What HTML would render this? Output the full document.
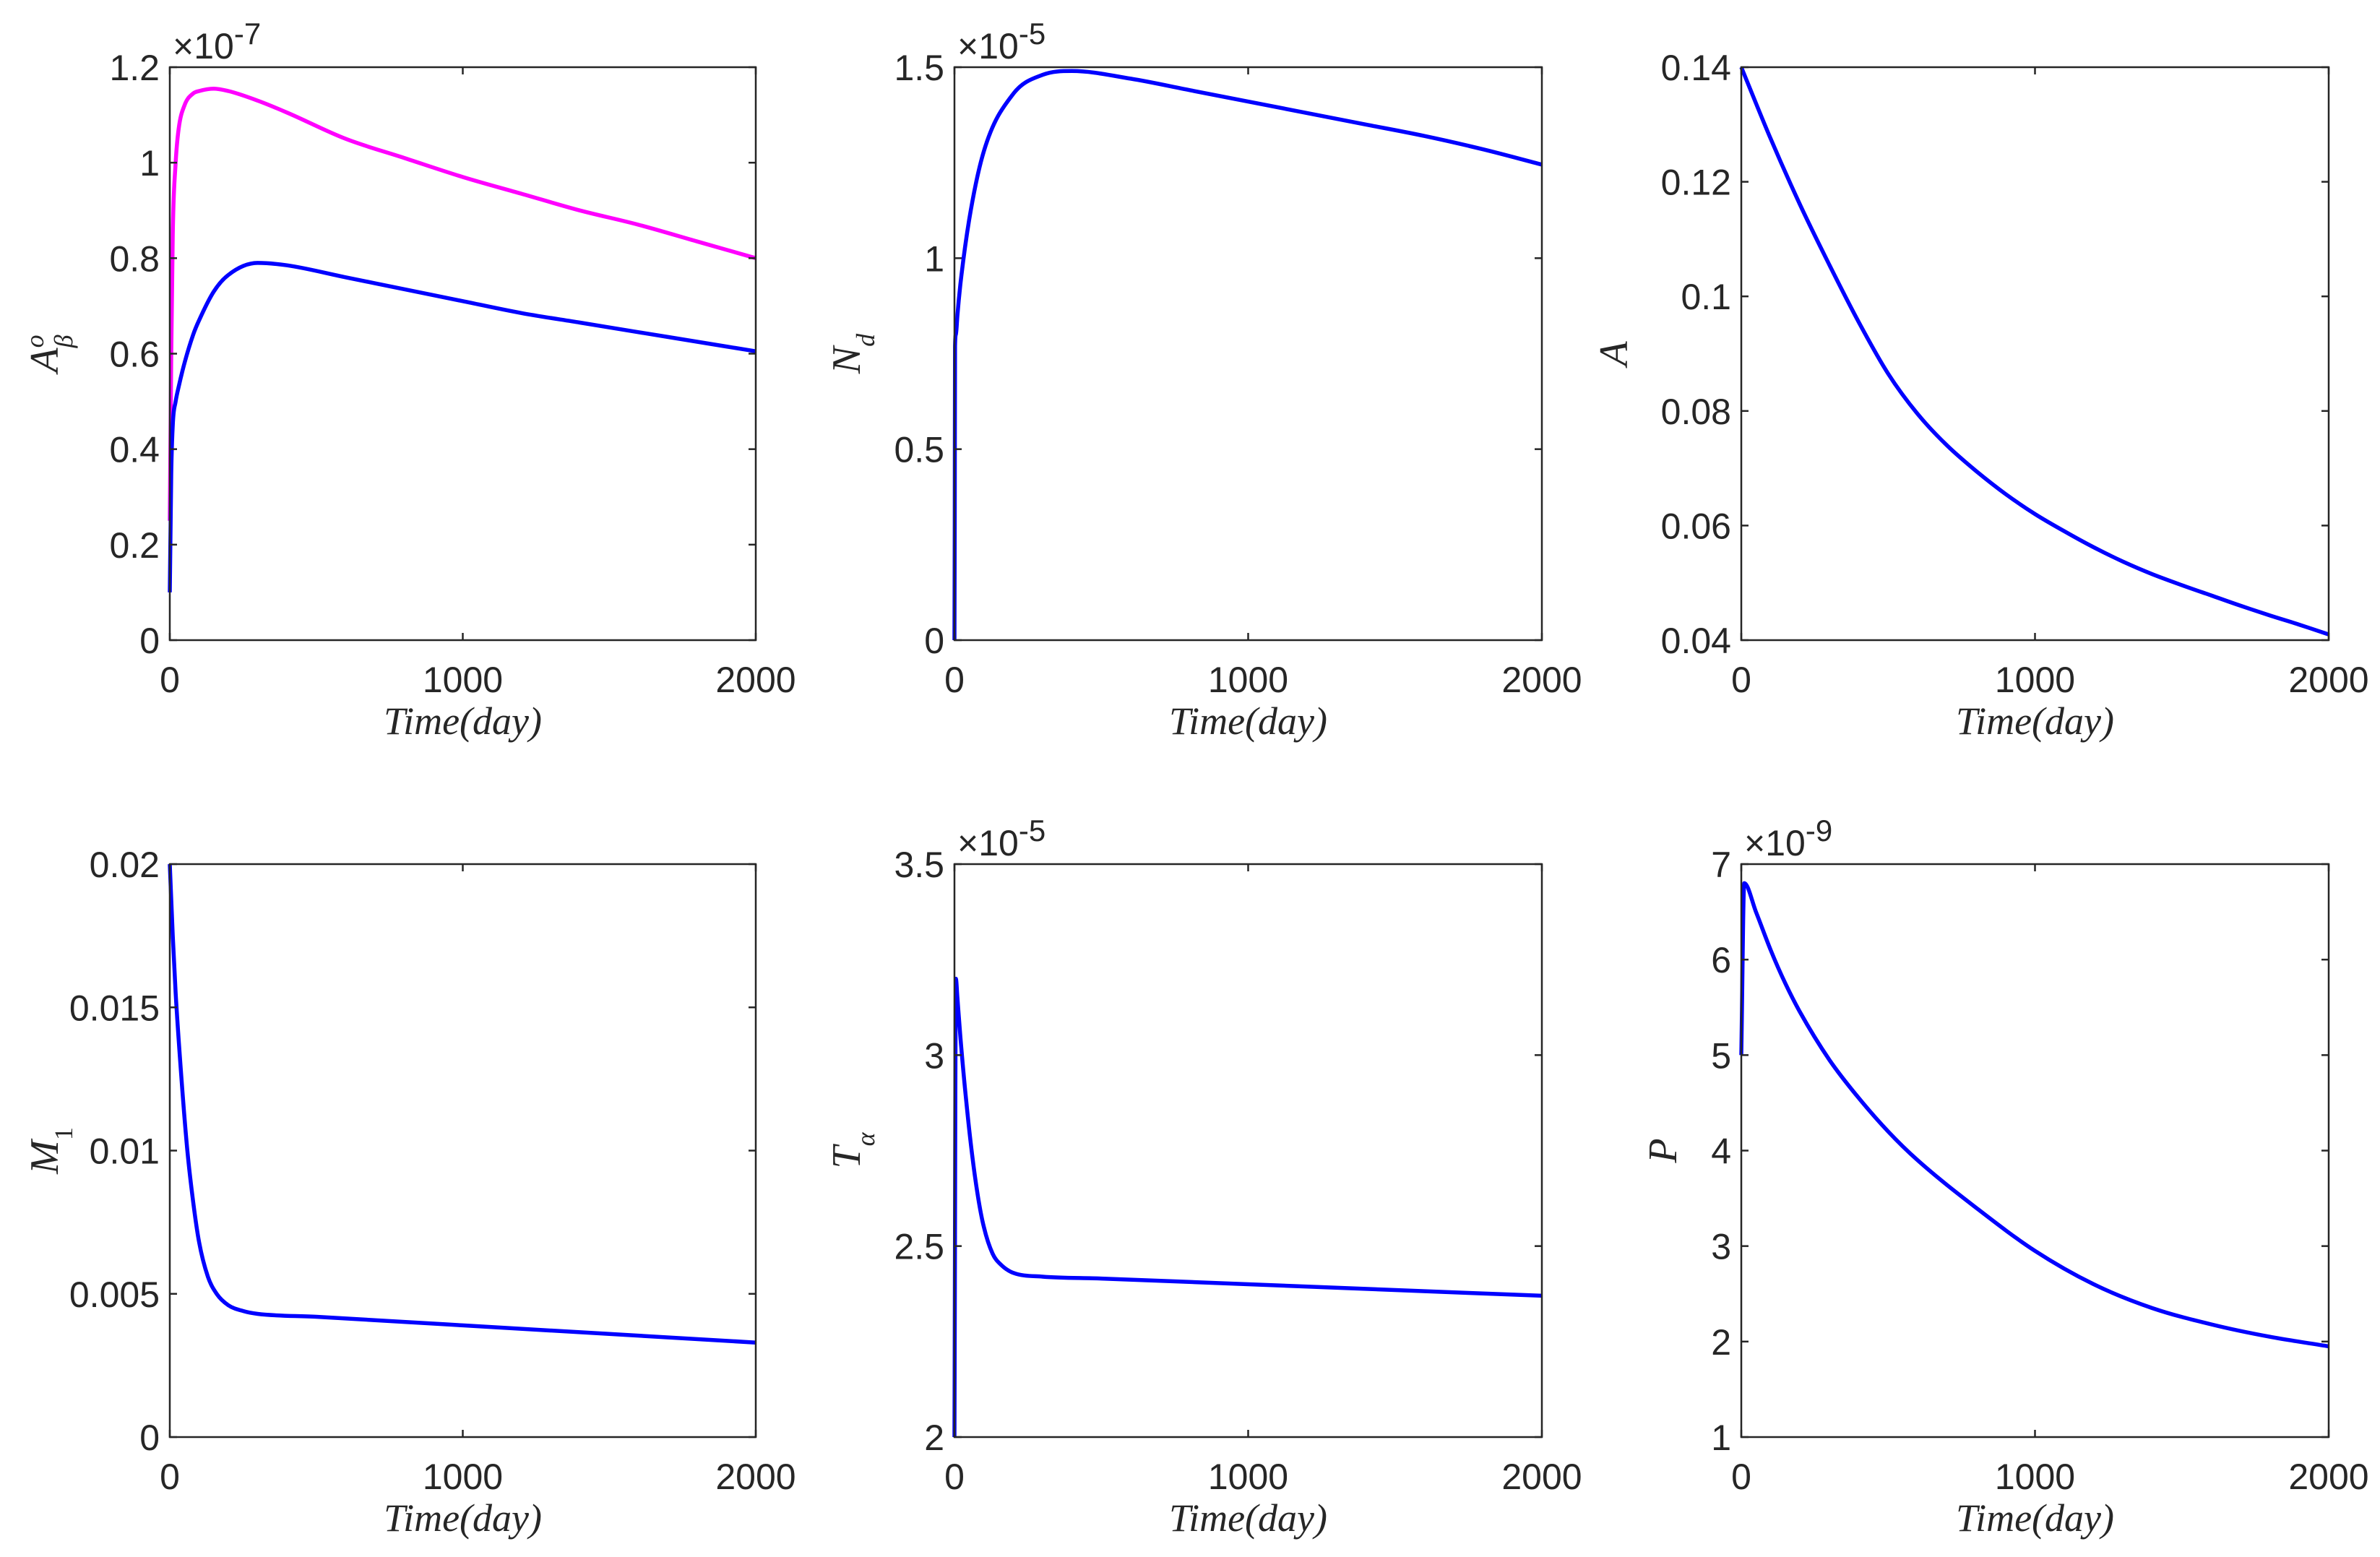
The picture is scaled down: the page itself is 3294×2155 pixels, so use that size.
<!DOCTYPE html>
<html><head><meta charset="utf-8">
<style>
html,body{margin:0;padding:0;background:#fff;}
svg{display:block;}
text{font-family:"Liberation Sans",sans-serif;fill:#262626;}
.lab{font-family:"Liberation Serif",serif;font-style:italic;}
</style></head>
<body>
<svg id="fig" width="3294" height="2155" viewBox="0 0 3294 2155" xmlns="http://www.w3.org/2000/svg"></svg>
<script>
// ---- data ----
const tAb = [0,5,10,20,30,50,80,100,150,200,300,400,600,800,1000,1200,1400,1600,1800,2000];
const abMagenta = [0.25,0.6,0.85,1.0,1.07,1.12,1.145,1.15,1.155,1.15,1.13,1.105,1.05,1.01,0.97,0.935,0.90,0.87,0.835,0.80];
const abBlue = [0.1,0.35,0.45,0.5,0.53,0.58,0.64,0.67,0.73,0.765,0.79,0.785,0.76,0.735,0.71,0.685,0.665,0.645,0.625,0.605];
const tNd = [0,1,2,5,10,20,50,100,200,300,400,600,800,1000,1200,1400,1600,1800,2000];
const ndVals = [0,0.3,0.77,0.8,0.85,0.93,1.1,1.28,1.43,1.48,1.49,1.47,1.44,1.41,1.38,1.35,1.32,1.285,1.245];
const tA = [0,100,200,300,400,500,600,700,800,900,1000,1100,1200,1300,1400,1500,1600,1700,1800,1900,2000];
const aVals = [0.14,0.1275,0.116,0.1055,0.0955,0.0865,0.0795,0.074,0.0695,0.0655,0.062,0.059,0.0562,0.0537,0.0515,0.0496,0.0478,0.046,0.0443,0.0427,0.041];
const tM = [0,10,20,40,60,80,100,130,160,200,250,300,500,1000,1500,2000];
const mVals = [0.02,0.0175,0.0155,0.0125,0.0100,0.0082,0.0068,0.0056,0.0050,0.0046,0.0044,0.0043,0.0042,0.0039,0.0036,0.0033];
const tT = [0,5,10,20,40,60,80,100,130,160,200,300,500,1000,1500,2000];
const tVals = [2.0,3.2,3.15,3.05,2.88,2.74,2.63,2.55,2.48,2.45,2.43,2.42,2.415,2.40,2.385,2.37];
const tP = [0,10,50,100,150,200,300,400,500,600,800,1000,1200,1400,1600,1800,2000];
const pVals = [5,6.8,6.5,6.1,5.75,5.45,4.95,4.55,4.2,3.9,3.4,2.95,2.6,2.35,2.18,2.05,1.95];
const xTicks = [0,1000,2000];
const xTickLabels = ["0","1000","2000"];

const NS="http://www.w3.org/2000/svg";
const svg=document.getElementById('fig');
function mk(tag,attrs,parent){const e=document.createElementNS(NS,tag);for(const k in attrs)e.setAttribute(k,attrs[k]);(parent||svg).appendChild(e);return e;}

// monotone cubic path through pixel points
function monoPath(P){
  const n=P.length; if(n<2) return '';
  const d=[],m=[];
  for(let i=0;i<n-1;i++){const dx=P[i+1][0]-P[i][0];d.push(dx===0?0:(P[i+1][1]-P[i][1])/dx);}
  m[0]=d[0];m[n-1]=d[n-2];
  for(let i=1;i<n-1;i++){m[i]=(d[i-1]*d[i]<=0)?0:(d[i-1]+d[i])/2;}
  for(let i=0;i<n-1;i++){
    if(d[i]===0){m[i]=0;m[i+1]=0;continue;}
    const a=m[i]/d[i],b=m[i+1]/d[i],s=a*a+b*b;
    if(s>9){const t=3/Math.sqrt(s);m[i]=t*a*d[i];m[i+1]=t*b*d[i];}
  }
  let s='M'+P[0][0].toFixed(1)+','+P[0][1].toFixed(1);
  for(let i=0;i<n-1;i++){
    const h=(P[i+1][0]-P[i][0])/3;
    s+=' C'+(P[i][0]+h).toFixed(1)+','+(P[i][1]+m[i]*h).toFixed(1)+' '+(P[i+1][0]-h).toFixed(1)+','+(P[i+1][1]-m[i+1]*h).toFixed(1)+' '+P[i+1][0].toFixed(1)+','+P[i+1][1].toFixed(1);
  }
  return s;
}

const panels=[
 {name:'abeta',x0:235,x1:1046,y0:93,y1:886,ymin:0,ymax:1.2,yt:[0,0.2,0.4,0.6,0.8,1,1.2],ytl:["0","0.2","0.4","0.6","0.8","1","1.2"],exp:"-7",ylab:'A<tspan baseline-shift="super" font-size="36">o</tspan><tspan dx="-18" baseline-shift="sub" font-size="36">β</tspan>',lx:80,series:[[tAb,abMagenta,'#ff00ff'],[tAb,abBlue,'#0000ff']]},
 {name:'nd',x0:1321,x1:2134,y0:93,y1:886,ymin:0,ymax:1.5,yt:[0,0.5,1,1.5],ytl:["0","0.5","1","1.5"],exp:"-5",ylab:'N<tspan baseline-shift="sub" font-size="36">d</tspan>',lx:1190,series:[[tNd,ndVals,'#0000ff']]},
 {name:'a',x0:2410,x1:3223,y0:93,y1:886,ymin:0.04,ymax:0.14,yt:[0.04,0.06,0.08,0.1,0.12,0.14],ytl:["0.04","0.06","0.08","0.1","0.12","0.14"],exp:null,ylab:'A',lx:2252,series:[[tA,aVals,'#0000ff']]},
 {name:'m1',x0:235,x1:1046,y0:1196,y1:1989,ymin:0,ymax:0.02,yt:[0,0.005,0.01,0.015,0.02],ytl:["0","0.005","0.01","0.015","0.02"],exp:null,ylab:'M<tspan baseline-shift="sub" font-size="36" font-style="normal">1</tspan>',lx:80,series:[[tM,mVals,'#0000ff']]},
 {name:'talpha',x0:1321,x1:2134,y0:1196,y1:1989,ymin:2,ymax:3.5,yt:[2,2.5,3,3.5],ytl:["2","2.5","3","3.5"],exp:"-5",ylab:'T<tspan baseline-shift="sub" font-size="36">α</tspan>',lx:1190,series:[[tT,tVals,'#0000ff']]},
 {name:'p',x0:2410,x1:3223,y0:1196,y1:1989,ymin:1,ymax:7,yt:[1,2,3,4,5,6,7],ytl:["1","2","3","4","5","6","7"],exp:"-9",ylab:'P',lx:2320,series:[[tP,pVals,'#0000ff']]}
];

panels.forEach(p=>{
  const g=mk('g',{});
  
  
  const xs=v=>p.x0+(v-0)/(2000-0)*(p.x1-p.x0);
  const ys=v=>p.y1-(v-p.ymin)/(p.ymax-p.ymin)*(p.y1-p.y0);
  p.series.forEach((s,i)=>{
    const pts=s[0].map((t,j)=>[xs(t),ys(s[1][j])]);
    const pl=mk('path',{d:monoPath(pts),fill:'none',stroke:s[2],'stroke-width':5.5,'stroke-linejoin':'round'},g);
    
    
  });
  const box=mk('rect',{x:p.x0,y:p.y0,width:p.x1-p.x0,height:p.y1-p.y0,fill:'none',stroke:'#262626','stroke-width':2.5},g);
  
  
  xTicks.forEach((t,i)=>{
    const x=xs(t);
    mk('line',{x1:x,y1:p.y1,x2:x,y2:p.y1-10,stroke:'#262626','stroke-width':2.5},g);
    mk('line',{x1:x,y1:p.y0,x2:x,y2:p.y0+10,stroke:'#262626','stroke-width':2.5},g);
    const tx=mk('text',{x:x,y:p.y1+72,'font-size':50,'text-anchor':'middle'},g);
    tx.textContent=xTickLabels[i];
    
    
  });
  p.yt.forEach((v,i)=>{
    const y=ys(v);
    mk('line',{x1:p.x0,y1:y,x2:p.x0+10,y2:y,stroke:'#262626','stroke-width':2.5},g);
    mk('line',{x1:p.x1,y1:y,x2:p.x1-10,y2:y,stroke:'#262626','stroke-width':2.5},g);
    const ty=mk('text',{x:p.x0-14,y:y+18,'font-size':50,'text-anchor':'end'},g);
    ty.textContent=p.ytl[i];
    
    
  });
  if(p.exp){
    const ex=mk('text',{x:p.x0+4,y:p.y0-12,'font-size':50},g);
    ex.innerHTML='×10<tspan font-size="42" dy="-20">'+p.exp+'</tspan>';
    
    
  }
  const xl=mk('text',{x:(p.x0+p.x1)/2,y:p.y1+130,'font-size':54,'text-anchor':'middle',class:'lab'},g);
  xl.textContent='Time(day)';
  
  
  const lx=p.lx, ly=(p.y0+p.y1)/2;
  const yl=mk('text',{x:lx,y:ly,'font-size':56,'text-anchor':'middle',class:'lab',transform:'rotate(-90 '+lx+' '+ly+')'},g);
  yl.innerHTML=p.ylab;
  
  
});
</script>
</body></html>
